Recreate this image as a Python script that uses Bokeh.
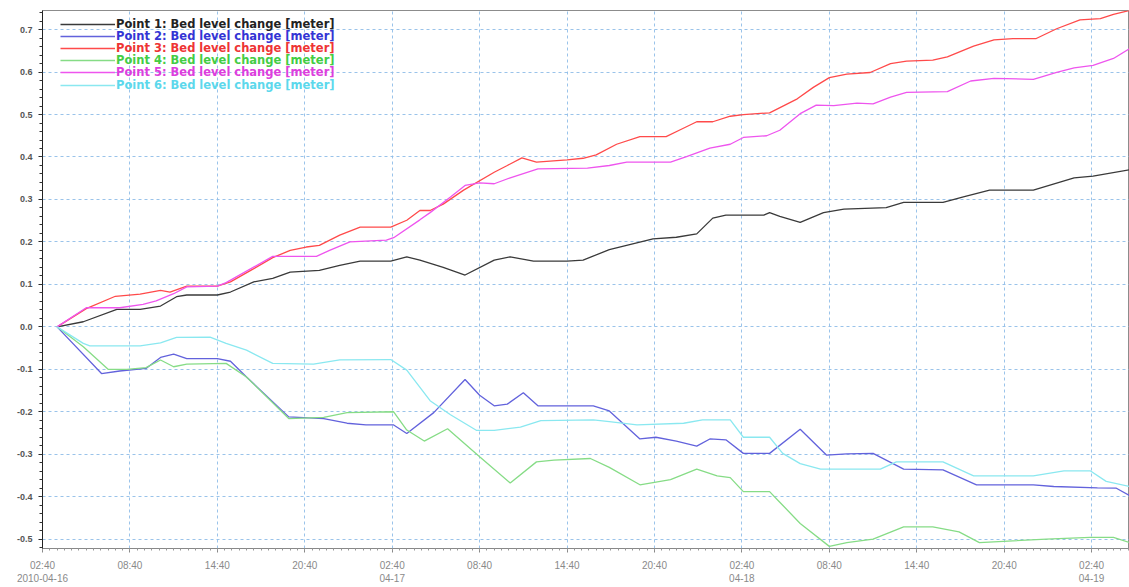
from bokeh.plotting import figure
from bokeh.models import FixedTicker, Legend, LegendItem, Range1d, NumeralTickFormatter
from bokeh.embed import file_html
from bokeh.resources import INLINE

# hours after 2010-04-16 02:40
series_names = [
    "Point 1: Bed level change [meter]",
    "Point 2: Bed level change [meter]",
    "Point 3: Bed level change [meter]",
    "Point 4: Bed level change [meter]",
    "Point 5: Bed level change [meter]",
    "Point 6: Bed level change [meter]",
]
line_colors = ["#3a3a3a", "#6262dc", "#ff4a4a", "#86dc86", "#ee55ee", "#8ae8f0"]
text_colors = ["#222222", "#3434d4", "#ee3434", "#44cc44", "#dd3edd", "#5cd8ec"]

t1 = [1.0, 2.8, 5.1, 6.7, 8.1, 9.2, 9.9, 12.0, 12.9, 14.5, 15.8, 17.0, 19.0, 20.4, 21.8, 23.9, 25.0, 25.9,
      27.5, 29.0, 31.0, 32.1, 33.7, 36.0, 37.1, 38.9, 41.9, 43.5, 44.9, 46.0, 46.9, 49.5, 49.9,
      50.6, 52.0, 53.6, 55.0, 57.9, 59.1, 61.8, 63.2, 65.0, 68.0, 70.8, 72.1, 74.6]
v1 = [0.0, 0.012, 0.041, 0.041, 0.049, 0.071, 0.075, 0.075, 0.082, 0.106, 0.114, 0.129, 0.133, 0.145, 0.155, 0.155, 0.165, 0.157,
      0.14, 0.122, 0.157, 0.165, 0.155, 0.155, 0.157, 0.182, 0.207, 0.211, 0.219, 0.256, 0.263, 0.263, 0.269,
      0.26, 0.246, 0.269, 0.277, 0.281, 0.293, 0.293, 0.306, 0.322, 0.322, 0.351, 0.355, 0.37]

t2 = [1.0, 4.05, 5.3, 7.1, 8.1, 9.0, 9.9, 12.0, 12.9, 14.0, 16.9, 19.3, 20.9, 22.2, 24.1, 25.0, 26.85, 29.0,
      30.0, 31.0, 31.9, 33.0, 34.0, 37.8, 38.9, 41.0, 42.1, 43.5, 44.9, 45.8, 46.9, 48.1, 49.9, 52.0,
      53.8, 55.2, 57.0, 59.1, 61.8, 64.1, 68.0, 69.4, 72.4, 73.7, 74.6]
v2 = [0.0, -0.11, -0.104, -0.098, -0.072, -0.064, -0.075, -0.075, -0.081, -0.118, -0.212, -0.216, -0.227, -0.231, -0.231, -0.251, -0.202, -0.124,
      -0.161, -0.186, -0.182, -0.155, -0.186, -0.186, -0.198, -0.264, -0.26, -0.269, -0.281, -0.264, -0.266, -0.298, -0.298, -0.241,
      -0.302, -0.299, -0.298, -0.335, -0.337, -0.372, -0.372, -0.376, -0.379, -0.38, -0.397]

t3 = [1.0, 3.0, 5.0, 6.7, 8.1, 8.75, 9.9, 12.0, 12.9, 14.5, 15.8, 17.0, 18.1, 19.0, 20.4, 21.8, 23.9, 25.0, 25.9,
      26.6, 27.5, 28.9, 31.0, 31.9, 32.9, 33.9, 36.0, 37.1, 38.0, 39.4, 41.0, 42.8, 43.7, 44.9, 46.0, 47.2, 48.1, 49.9,
      51.8, 52.9, 54.0, 55.2, 56.8, 58.2, 59.3, 61.1, 62.1, 63.9, 65.3, 66.6, 68.2, 69.6, 71.2, 72.6, 73.5, 74.6]
v3 = [0.0, 0.043, 0.072, 0.077, 0.086, 0.082, 0.096, 0.096, 0.106, 0.137, 0.163, 0.18, 0.188, 0.192, 0.216, 0.235, 0.235, 0.251, 0.274,
      0.274, 0.289, 0.322, 0.364, 0.38, 0.398, 0.388, 0.393, 0.397, 0.405, 0.43, 0.448, 0.448, 0.463, 0.483, 0.483, 0.496, 0.5, 0.504,
      0.537, 0.564, 0.587, 0.595, 0.599, 0.62, 0.626, 0.628, 0.636, 0.661, 0.676, 0.679, 0.679, 0.702, 0.723, 0.726, 0.736, 0.745]

t4 = [1.0, 2.8, 4.5, 5.8, 7.1, 8.1, 9.0, 9.9, 12.6, 14.0, 16.9, 19.3, 20.9, 24.1, 25.0, 26.2, 27.8, 30.0,
      32.1, 33.9, 35.1, 37.6, 38.9, 41.0, 43.1, 44.9, 46.3, 47.2, 48.1, 49.9, 50.6, 52.0, 54.0, 55.2,
      57.0, 59.1, 61.1, 62.9, 64.3, 66.6, 68.9, 71.9, 73.5, 74.6]
v4 = [0.0, -0.047, -0.1, -0.1, -0.096, -0.078, -0.094, -0.088, -0.086, -0.118, -0.216, -0.213, -0.202, -0.2, -0.243, -0.269, -0.24, -0.306,
      -0.368, -0.318, -0.314, -0.31, -0.331, -0.372, -0.36, -0.335, -0.351, -0.355, -0.388, -0.388, -0.413, -0.463, -0.517, -0.508,
      -0.5, -0.471, -0.471, -0.483, -0.508, -0.504, -0.5, -0.496, -0.496, -0.508]

t5 = [1.0, 3.0, 5.3, 6.9, 7.8, 9.0, 9.9, 12.0, 12.6, 15.8, 18.8, 19.7, 21.1, 23.6, 24.1, 25.9, 26.6, 28.0,
      29.0, 30.0, 31.0, 32.1, 34.0, 37.4, 38.9, 40.1, 43.1, 44.2, 45.8, 47.2, 48.1, 49.7, 50.6, 52.0,
      53.1, 54.3, 55.9, 57.0, 58.2, 59.3, 62.1, 63.7, 65.3, 68.0, 69.6, 70.8, 72.1, 73.5, 74.6]
v5 = [0.0, 0.045, 0.045, 0.053, 0.061, 0.078, 0.094, 0.096, 0.104, 0.166, 0.166, 0.18, 0.2, 0.204, 0.21, 0.252, 0.269, 0.306,
      0.333, 0.339, 0.337, 0.351, 0.372, 0.374, 0.38, 0.388, 0.388, 0.401, 0.421, 0.43, 0.446, 0.45, 0.463, 0.502,
      0.522, 0.521, 0.527, 0.525, 0.541, 0.552, 0.554, 0.579, 0.585, 0.583, 0.599, 0.61, 0.616, 0.632, 0.655]

t6 = [1.0, 2.8, 3.25, 6.7, 8.1, 9.2, 11.5, 12.6, 14.0, 15.8, 18.6, 20.4, 23.9, 25.0, 26.6, 28.0, 29.8,
      31.0, 32.8, 34.2, 37.8, 38.9, 40.8, 44.0, 45.3, 47.2, 48.1, 49.9, 50.8, 52.0, 53.4, 57.5,
      58.6, 61.8, 63.9, 68.0, 70.1, 71.9, 73.0, 74.6]
v6 = [0.0, -0.039, -0.045, -0.045, -0.038, -0.025, -0.024, -0.039, -0.055, -0.086, -0.088, -0.078, -0.077, -0.102, -0.174, -0.207, -0.244,
      -0.244, -0.236, -0.221, -0.219, -0.223, -0.231, -0.227, -0.219, -0.219, -0.26, -0.26, -0.298, -0.322, -0.335, -0.335,
      -0.318, -0.318, -0.351, -0.351, -0.339, -0.339, -0.364, -0.376]

x_ticks = [0, 6, 12, 18, 24, 30, 36, 42, 48, 54, 60, 66, 72]
x_tick_labels = ["02:40\n2010-04-16", "08:40", "14:40", "20:40", "02:40\n04-17", "08:40", "14:40",
                 "20:40", "02:40\n04-18", "08:40", "14:40", "20:40", "02:40\n04-19"]
y_ticks = [-0.5, -0.4, -0.3, -0.2, -0.1, 0.0, 0.1, 0.2, 0.3, 0.4, 0.5, 0.6, 0.7]

p = figure(width=1129, height=587, output_backend="svg", toolbar_location=None,
           x_range=Range1d(0, 74.6), y_range=Range1d(-0.522, 0.745),
           min_border_left=42, min_border_right=0, min_border_top=10, min_border_bottom=39)
p.background_fill_color = "white"
p.border_fill_color = "white"
p.outline_line_color = "#8c8c8c"
p.outline_line_width = 1

# axes
xa = p.xaxis[0]
xa.ticker = FixedTicker(ticks=x_ticks, minor_ticks=[i * 0.5 for i in range(0, 150)])
xa.major_label_overrides = {k: lab for k, lab in zip(x_ticks, x_tick_labels)}
xa.axis_line_color = "#888888"
xa.major_tick_line_color = "#888888"
xa.minor_tick_line_color = "#999999"
xa.major_tick_out = 4
xa.major_tick_in = 0
xa.minor_tick_out = 2
xa.minor_tick_in = 0
xa.major_label_text_color = "#8a8a8a"
xa.major_label_text_font = "Liberation Sans"
xa.major_label_text_font_size = "10px"
xa.major_label_standoff = 7

ya = p.yaxis[0]
ya.ticker = FixedTicker(ticks=y_ticks, minor_ticks=[round(-0.52 + i * 0.02, 2) for i in range(0, 64)])
ya.formatter = NumeralTickFormatter(format="0.0")
ya.axis_line_color = "#222222"
ya.major_tick_line_color = "#222222"
ya.minor_tick_line_color = "#333333"
ya.major_tick_out = 4
ya.major_tick_in = 0
ya.minor_tick_out = 3
ya.minor_tick_in = 0
ya.major_label_text_color = "#555555"
ya.major_label_text_font = "Liberation Sans"
ya.major_label_text_font_style = "bold"
ya.major_label_text_font_size = "9px"
ya.major_label_standoff = 6

p.xgrid.ticker = FixedTicker(ticks=x_ticks[1:])
p.ygrid.ticker = FixedTicker(ticks=y_ticks)
for g in (p.xgrid[0], p.ygrid[0]):
    g.grid_line_color = "#8fbde8"
    g.grid_line_dash = "3 3"
    g.grid_line_width = 1
    g.grid_line_alpha = 0.9

ts = [t1, t2, t3, t4, t5, t6]
vs = [v1, v2, v3, v4, v5, v6]
renderers = []
for t, v, c in zip(ts, vs, line_colors):
    r = p.line(t, v, line_color=c, line_width=1.3)
    renderers.append(r)

row_top = 24.5
row_gap = 12.2
frame_h = 538
for i, (name, r, tc) in enumerate(zip(series_names, renderers, text_colors)):
    yc = row_top + i * row_gap - 10
    leg = Legend(items=[LegendItem(label=name, renderers=[r])],
                 location=(18, frame_h - yc - 6),
                 glyph_width=55, glyph_height=12, label_height=12,
                 label_standoff=1, padding=0, margin=0, spacing=0,
                 background_fill_alpha=0, border_line_alpha=0,
                 label_text_color=tc, label_text_font="DejaVu Sans",
                 label_text_font_style="bold", label_text_font_size="11.5px")
    p.add_layout(leg, "center")

open("out.html", "w").write(file_html(p, INLINE))
